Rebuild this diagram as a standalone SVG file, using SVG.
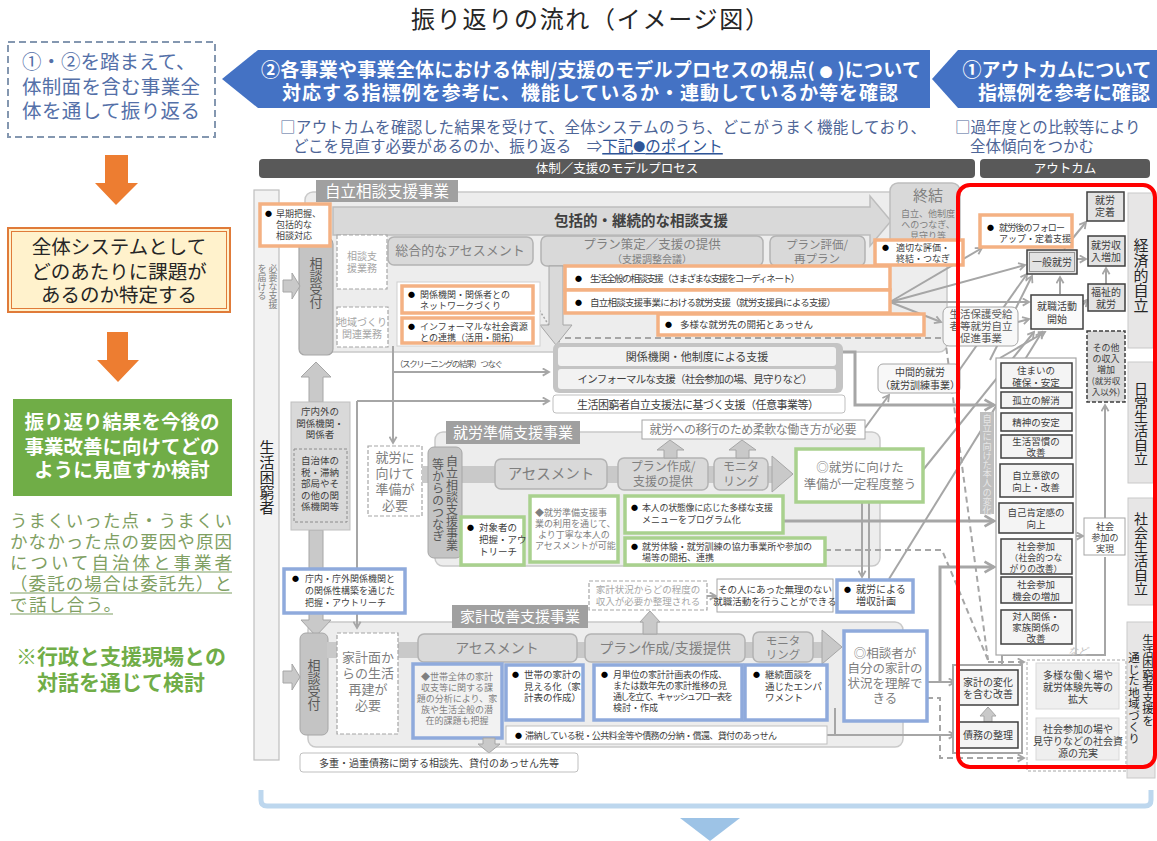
<svg xmlns="http://www.w3.org/2000/svg" width="1157" height="841" viewBox="0 0 1157 841">
<defs>
<style>
text{font-family:"Noto Sans CJK JP","Noto Sans",sans-serif;}
.g4{fill:#404040}.g5{fill:#595959}.g7{fill:#7f7f7f}.ga{fill:#a6a6a6}.wt{fill:#fff}
.bu{fill:#000;font-size:7px}
.zone{fill:#ededed;stroke:#c9c9c9;stroke-width:1.5}
.tab{fill:#a0a0a0}
.proc{fill:#d9d9d9;stroke:#b3b3b3;stroke-width:1.5}
.ob{fill:#fff;stroke:#f4b183;stroke-width:3.5}
.gb{fill:#fff;stroke:#a9d18e;stroke-width:3.5}
.bb{fill:#fff;stroke:#8faadc;stroke-width:3.5}
.dsh{fill:#fff;stroke:#a6a6a6;stroke-width:1.2;stroke-dasharray:4 2}
.oc{fill:#e3e3e3;stroke:#3f3f3f;stroke-width:1.5}
.oc2{fill:#f4f4f4;stroke:#3f3f3f;stroke-width:1.5}
.lab{fill:#e7e6e6;stroke:#c9c9c9;stroke-width:1}
.ln{fill:none;stroke:#a6a6a6;stroke-width:2;marker-end:url(#ah)}
.lnn{fill:none;stroke:#a6a6a6;stroke-width:2}
.dl{fill:none;stroke:#a6a6a6;stroke-width:2;stroke-dasharray:6 4}
.blk{fill:#c9c9c9;stroke:#a6a6a6;stroke-width:1}
.vt{writing-mode:vertical-rl}
</style>
<marker id="ah" viewBox="0 0 10 10" refX="8" refY="5" markerWidth="4.5" markerHeight="4.5" orient="auto"><path d="M1,1 L8,5 L1,9" fill="none" stroke="#a6a6a6" stroke-width="2"/></marker>
</defs>
<rect width="1157" height="841" fill="#fff"/>

<text id="title" x="590" y="28" text-anchor="middle" font-size="24" fill="#262626" textLength="358">振り返りの流れ（イメージ図）</text>

<!-- left column -->
<g id="n-review">
<rect x="8" y="42" width="207" height="95" fill="#fff" stroke="#8497b0" stroke-width="2" stroke-dasharray="7 4"/>
<text x="22" y="69" font-size="19.5" fill="#5470a8">①・②を踏まえて、</text>
<text x="22" y="94" font-size="19.5" fill="#5470a8" textLength="178">体制面を含む事業全</text>
<text x="22" y="118" font-size="19.5" fill="#5470a8" textLength="178">体を通して振り返る</text>
</g>
<g id="arrow-o1"><polygon points="105,155 128,155 128,183 138,183 116,205 95,183 105,183" fill="#ed7d31"/></g>
<g id="n-identify">
<rect x="8" y="228" width="222" height="84" fill="#fff2cc" stroke="#e07b39" stroke-width="2"/>
<rect x="11.5" y="231.5" width="215" height="77" fill="none" stroke="#e07b39" stroke-width="1"/>
<text x="119" y="254" font-size="19.5" text-anchor="middle" fill="#262626">全体システムとして</text>
<text x="119" y="279" font-size="19.5" text-anchor="middle" fill="#262626">どのあたりに課題が</text>
<text x="119" y="302" font-size="19.5" text-anchor="middle" fill="#262626">あるのか特定する</text>
</g>
<g id="arrow-o2"><polygon points="107,332 128,332 128,360 139,360 118,382 97,360 107,360" fill="#ed7d31"/></g>
<g id="n-consider">
<rect x="13" y="399" width="219" height="97" fill="#70ad47"/>
<text x="122" y="429" font-size="19.5" font-weight="bold" text-anchor="middle" class="wt">振り返り結果を今後の</text>
<text x="122" y="454" font-size="19.5" font-weight="bold" text-anchor="middle" class="wt">事業改善に向けてどの</text>
<text x="122" y="477" font-size="19.5" font-weight="bold" text-anchor="middle" class="wt">ように見直すか検討</text>
</g>
<g id="n-note" fill="#7f9f63" font-size="17.5">
<text x="10" y="527" textLength="222">うまくいった点・うまくい</text>
<text x="10" y="548" textLength="222">かなかった点の要因や原因</text>
<text x="10" y="569" textLength="222">について自治体と事業者</text>
<text x="10" y="590" textLength="222">（委託の場合は委託先）と</text>
<text x="10" y="611" textLength="111">で話し合う。</text>
<path d="M93,572 H232 M10,593 H232 M10,614 H113" stroke="#7f9f63" stroke-width="1.2"/>
</g>
<g id="n-dialog" fill="#70ad47" font-size="21" font-weight="bold" text-anchor="middle">
<text x="121" y="664">※行政と支援現場との</text>
<text x="121" y="690">対話を通じて検討</text>
</g>

<!-- top banners -->
<g id="n-banner2">
<polygon points="222,79 258,50 930,50 930,108 258,108" fill="#4472c4"/>
<text x="591" y="77" font-size="19" font-weight="bold" class="wt" text-anchor="middle" textLength="660">②各事業や事業全体における体制/支援のモデルプロセスの視点( <tspan font-size="13">●</tspan> )について</text>
<text x="590" y="100" font-size="19" font-weight="bold" class="wt" text-anchor="middle" textLength="616">対応する指標例を参考に、機能しているか・連動しているか等を確認</text>
</g>
<g id="n-banner1">
<polygon points="932,79 958,50 1157,50 1157,108 958,108" fill="#4472c4"/>
<text x="1057" y="77" font-size="19" font-weight="bold" class="wt" text-anchor="middle" textLength="189">①アウトカムについて</text>
<text x="1064" y="100" font-size="19" font-weight="bold" class="wt" text-anchor="middle" textLength="172">指標例を参考に確認</text>
</g>
<g id="n-sub2" font-size="15.5" fill="#4e6597">
<text x="280" y="133" textLength="646">□アウトカムを確認した結果を受けて、全体システムのうち、どこがうまく機能しており、</text>
<text x="293" y="152">どこを見直す必要があるのか、振り返る　⇒<tspan fill="#2f5597" text-decoration="underline">下記<tspan font-size="12">●</tspan>のポイント</tspan></text>
</g>
<g id="n-sub1" font-size="15.5" fill="#4e6597">
<text x="955" y="133">□過年度との比較等により</text>
<text x="970" y="152">全体傾向をつかむ</text>
</g>
<g id="n-headers">
<rect x="259" y="159" width="716" height="19" rx="4" fill="#595959"/>
<text x="617" y="173" font-size="12.5" class="wt" text-anchor="middle">体制／支援のモデルプロセス</text>
<rect x="980" y="159" width="170" height="19" rx="4" fill="#595959"/>
<text x="1065" y="173" font-size="12.5" class="wt" text-anchor="middle">アウトカム</text>
</g>

<!-- left bar -->
<g id="n-person">
<rect x="254" y="190" width="25" height="570" fill="#f2f2f2" stroke="#bfbfbf" stroke-width="1.2"/>
<text x="267" y="440" font-size="15" class="vt" fill="#262626">生活困窮者</text>
<text x="273" y="264" font-size="9" class="vt g7">必要な支援</text>
<text x="262" y="264" font-size="9" class="vt g7">を届ける</text>
</g>

<!-- zones -->
<g id="zone-jiritsu">
<rect class="zone" x="305" y="192" width="642" height="160" rx="8"/>
<rect class="tab" x="316" y="180" width="142" height="22"/>
<text x="387" y="197" font-size="15.5" class="wt" text-anchor="middle">自立相談支援事業</text>
</g>
<g id="zone-shurou">
<rect class="zone" x="435" y="432" width="445" height="134" rx="8"/>
<rect class="tab" x="446" y="421" width="134" height="23"/>
<text x="513" y="438" font-size="15" class="wt" text-anchor="middle">就労準備支援事業</text>
</g>
<g id="zone-kakei">
<rect class="zone" x="308" y="622" width="595" height="125" rx="8"/>
<rect class="tab" x="452" y="605" width="136" height="23"/>
<text x="520" y="622" font-size="15" class="wt" text-anchor="middle">家計改善支援事業</text>
</g>

<!-- connectors -->
<g id="connectors">
<path class="ln" d="M393,346 V443"/>
<path class="ln" d="M393,372 H549"/>
<path class="ln" d="M357,401 H549"/>
<path class="ln" d="M357,401 V628"/>
<path d="M533,300 L560,343" fill="none" stroke="#a6a6a6" stroke-width="1.5" stroke-dasharray="2 2"/>
<path class="ln" d="M890,302 L982,248"/>
<path class="ln" d="M890,302 L1025,265"/>
<path class="ln" d="M890,302 H1029"/>
<path class="ln" d="M890,302 L941,322"/>
<path class="ln" d="M1018,322 L1029,319"/>
<path class="ln" d="M1064,249 L1086,222"/>
<path class="ln" d="M1077,259 H1086"/>
<path class="ln" d="M1060,294 V277"/>
<path class="ln" d="M1106,284 V268"/>
<path class="ln" d="M1083,305 L1087,300"/>
<path d="M843,352 H855 V405 H994" fill="none" stroke="#a6a6a6" stroke-width="3" marker-end="url(#ah)"/>
<path class="ln" d="M923,470 L1034,332"/>
<path class="ln" d="M958,372 L1027,274"/>
<path class="ln" d="M865,428 L889,395"/>
<path class="ln" d="M862,502 V577"/>
<path class="lnn" d="M869,579 V502"/>
<path class="ln" d="M889,579 L1042,332"/>
<path class="ln" d="M990,360 L1032,276"/>
<path class="ln" d="M1000,358 L1045,332"/>
<path d="M783,521 H994" fill="none" stroke="#a6a6a6" stroke-width="3" marker-end="url(#ah)"/>
<path class="ln" d="M927,682 H955"/>
<path d="M940,682 V567 H994" fill="none" stroke="#a6a6a6" stroke-width="3" marker-end="url(#ah)"/>
<path class="ln" d="M827,735 H955"/>
<path class="lnn" d="M835,708 V735"/>
<path class="dl" d="M555,338 H945 L988,660"/>
<path class="dl" d="M825,550 H942 L988,660"/>
<path class="dl" d="M988,662 H1024" marker-end="url(#ah)"/>
<path class="dl" d="M927,698 H940 V758 H1024" marker-end="url(#ah)"/>
<path class="ln" d="M1105,518 V405"/>
<path class="ln" d="M1076,536 H1083"/>
<path class="lnn" d="M1002,668 V655 H1105 V557"/>
<path class="ln" d="M707,596 H716"/>
</g>

<!-- jiritsu nodes -->
<g id="n-big-arrow">
<polygon points="333,207 870,207 870,196 891,221 870,246 870,235 333,235" fill="#d9d9d9" stroke="#bdbdbd" stroke-width="1.5"/>
<text x="641" y="226" font-size="14.5" font-weight="bold" text-anchor="middle" class="g4">包括的・継続的な相談支援</text>
</g>
<g id="n-shuketsu">
<rect x="890" y="183" width="70" height="82" rx="8" fill="#d9d9d9" stroke="#bdbdbd" stroke-width="1.5"/>
<text x="928" y="201" font-size="15" text-anchor="middle" class="g7">終結</text>
<text x="928" y="217" font-size="9" text-anchor="middle" class="g7">自立、他制度</text>
<text x="928" y="228" font-size="9" text-anchor="middle" class="g7">へのつなぎ、</text>
<text x="928" y="239" font-size="9" text-anchor="middle" class="g7">見守り等</text>
</g>
<g id="n-uketsuke1">
<rect x="299" y="238" width="34" height="117" rx="6" fill="#c4c4c4" stroke="#a6a6a6" stroke-width="1.2"/>
<text x="316" y="257" font-size="13" class="vt g5">相談受付</text>
</g>
<g id="n-arrow-in1"><polygon class="blk" points="283,280 292,280 292,273 300,286 292,299 292,292 283,292"/></g>
<g id="n-souki">
<rect class="ob" x="260" y="204" width="70" height="42"/>
<text x="265" y="216" class="bu">●</text>
<text x="276" y="217" font-size="9" class="g4">早期把握、</text>
<text x="276" y="228" font-size="9" class="g4">包括的な</text>
<text x="276" y="239" font-size="9" class="g4">相談対応</text>
</g>
<g id="n-soudan-gyomu">
<rect class="dsh" x="337" y="235" width="50" height="54"/>
<text x="362" y="260" font-size="10" text-anchor="middle" class="ga">相談支</text>
<text x="362" y="272" font-size="10" text-anchor="middle" class="ga">援業務</text>
</g>
<g id="n-chiiki-gyomu">
<rect class="dsh" x="337" y="307" width="51" height="40"/>
<text x="362" y="326" font-size="10" text-anchor="middle" class="ga">地域づくり</text>
<text x="362" y="338" font-size="10" text-anchor="middle" class="ga">関連業務</text>
</g>
<g id="n-assess1">
<rect class="proc" x="388" y="237" width="145" height="28" rx="6"/>
<text x="460" y="255" font-size="13" text-anchor="middle" class="g7">総合的なアセスメント</text>
</g>
<g id="n-plan1">
<rect class="proc" x="541" y="236" width="222" height="30" rx="6"/>
<text x="652" y="249" font-size="12.5" text-anchor="middle" class="g7">プラン策定／支援の提供</text>
<text x="652" y="263" font-size="10" text-anchor="middle" class="g7">（支援調整会議）</text>
</g>
<g id="n-eval1">
<rect class="proc" x="770" y="236" width="95" height="30" rx="6"/>
<text x="817" y="249" font-size="11.5" text-anchor="middle" class="g7">プラン評価/</text>
<text x="817" y="263" font-size="11.5" text-anchor="middle" class="g7">再プラン</text>
</g>
<g id="n-down-arrow1"><polygon points="549,266 563,266 563,325 572,325 556,345 540,325 549,325" fill="#d9d9d9" stroke="#a6a6a6" stroke-width="1"/></g>
<g id="n-network">
<rect x="397" y="282" width="143" height="64" fill="#fff" stroke="#d0d0d0"/>
<rect class="ob" x="402" y="286" width="131" height="27"/>
<text x="408" y="297" class="bu">●</text>
<text x="420" y="298" font-size="9" class="g4">関係機関・関係者との</text>
<text x="420" y="309" font-size="9" class="g4">ネットワークづくり</text>
<rect class="ob" x="402" y="318" width="131" height="25"/>
<text x="408" y="329" class="bu">●</text>
<text x="420" y="330" font-size="9" class="g4">インフォーマルな社会資源</text>
<text x="420" y="341" font-size="9" class="g4">との連携（活用・開拓）</text>
</g>
<g id="n-seikatsu-zenpan">
<rect class="ob" x="565" y="266" width="325" height="24"/>
<text x="575" y="281" class="bu">●</text>
<text x="590" y="282" font-size="9.5" class="g4" textLength="210">生活全般の相談支援（さまざまな支援をコーディネート）</text>
</g>
<g id="n-shurou-shien">
<rect class="ob" x="565" y="290" width="325" height="23"/>
<text x="575" y="305" class="bu">●</text>
<text x="590" y="306" font-size="9.5" class="g4" textLength="246">自立相談支援事業における就労支援（就労支援員による支援）</text>
</g>
<g id="n-kaitaku">
<rect class="ob" x="658" y="314" width="266" height="21"/>
<text x="665" y="327" class="bu">●</text>
<text x="680" y="328" font-size="9.5" class="g4">多様な就労先の開拓とあっせん</text>
</g>
<g id="n-tekisetsu">
<rect class="ob" x="875" y="240" width="88" height="25"/>
<text x="882" y="250" class="bu">●</text>
<text x="896" y="251" font-size="9" class="g4">適切な評価・</text>
<text x="896" y="262" font-size="9" class="g4">終結・つなぎ</text>
</g>
<g id="n-kankei">
<rect x="553" y="343" width="290" height="50" rx="6" fill="#c4c4c4"/>
<rect x="558" y="347" width="278" height="19" rx="3" fill="#f2f2f2"/>
<text x="697" y="361" font-size="11" text-anchor="middle" class="g4">関係機関・他制度による支援</text>
<rect x="558" y="369" width="278" height="20" rx="3" fill="#f2f2f2"/>
<text x="695" y="383" font-size="10.5" text-anchor="middle" class="g4" textLength="235">インフォーマルな支援（社会参加の場、見守りなど）</text>
</g>
<g id="n-houritsu">
<rect x="553" y="395" width="292" height="18" rx="3" fill="#fff" stroke="#bfbfbf"/>
<text x="698" y="408.5" font-size="11" text-anchor="middle" class="g4" textLength="242">生活困窮者自立支援法に基づく支援（任意事業等）</text>
</g>
<text id="lbl-screening" x="395" y="367" font-size="8.5" class="g5" textLength="108">（スクリーニングの結果）つなぐ</text>
<g id="n-chuukan">
<rect x="878" y="364" width="82" height="29" rx="5" fill="#f8f8f8" stroke="#a6a6a6"/>
<text x="920" y="376" font-size="10" text-anchor="middle" class="g4">中間的就労</text>
<text x="920" y="389" font-size="10" text-anchor="middle" class="g4">（就労訓練事業）</text>
</g>

<!-- left organizations -->
<g id="n-up-arrow"><polygon class="blk" points="309,402 309,377 301,377 316,362 331,377 323,377 323,402"/></g>
<g id="n-down-arrow2"><polygon class="blk" points="309,530 323,530 323,620 331,620 316,636 301,620 309,620"/></g>
<g id="n-chounai">
<rect x="291" y="402" width="59" height="128" fill="#d9d9d9" stroke="#bfbfbf"/>
<text x="320" y="415" font-size="9.5" text-anchor="middle" class="g4">庁内外の</text>
<text x="320" y="426.5" font-size="9.5" text-anchor="middle" class="g4">関係機関・</text>
<text x="320" y="438" font-size="9.5" text-anchor="middle" class="g4">関係者</text>
<rect x="294" y="449" width="53" height="73" fill="none" stroke="#8c8c8c" stroke-dasharray="3 2"/>
<text x="320" y="464" font-size="9.5" text-anchor="middle" class="g4">自治体の</text>
<text x="320" y="475.5" font-size="9.5" text-anchor="middle" class="g4">税・滞納</text>
<text x="320" y="487" font-size="9.5" text-anchor="middle" class="g4">部局やそ</text>
<text x="320" y="498.5" font-size="9.5" text-anchor="middle" class="g4">の他の関</text>
<text x="320" y="510" font-size="9.5" text-anchor="middle" class="g4">係機関等</text>
</g>
<g id="n-chounai-outreach">
<rect class="bb" x="284" y="569" width="121" height="44"/>
<text x="292" y="581" class="bu">●</text>
<text x="305" y="582" font-size="9" class="g4">庁内・庁外関係機関と</text>
<text x="305" y="594" font-size="9" class="g4">の関係性構築を通じた</text>
<text x="305" y="606" font-size="9" class="g4">把握・アウトリーチ</text>
</g>

<!-- shurou junbi -->
<g id="n-junbi-need">
<rect class="dsh" x="368" y="446" width="54" height="70"/>
<text x="395" y="462" font-size="13" text-anchor="middle" class="g7">就労に</text>
<text x="395" y="478" font-size="13" text-anchor="middle" class="g7">向けて</text>
<text x="395" y="494" font-size="13" text-anchor="middle" class="g7">準備が</text>
<text x="395" y="510" font-size="13" text-anchor="middle" class="g7">必要</text>
</g>
<g id="n-bar-shurou">
<rect x="422" y="466" width="350" height="17" fill="#c9c9c9"/>
<polygon points="772,456 793,474 772,492" fill="#c9c9c9" stroke="#a6a6a6" stroke-width="1"/>
</g>
<g id="n-tsunagi">
<rect x="428" y="447" width="34" height="111" rx="6" fill="#c4c4c4" stroke="#a6a6a6"/>
<text x="452" y="455" font-size="12" class="vt g5">自立相談支援事業</text>
<text x="438" y="458" font-size="12" class="vt g5">等からのつなぎ</text>
</g>
<g id="n-assess2">
<rect class="proc" x="495" y="459" width="112" height="30" rx="6"/>
<text x="551" y="479" font-size="14.5" text-anchor="middle" class="g7">アセスメント</text>
</g>
<g id="n-plan2">
<rect class="proc" x="618" y="458" width="90" height="32" rx="6"/>
<text x="663" y="471" font-size="12" text-anchor="middle" class="g7">プラン作成/</text>
<text x="663" y="486" font-size="12" text-anchor="middle" class="g7">支援の提供</text>
</g>
<g id="n-moni2">
<rect class="proc" x="714" y="458" width="54" height="32" rx="6"/>
<text x="741" y="471" font-size="12" text-anchor="middle" class="g7">モニタ</text>
<text x="741" y="486" font-size="12" text-anchor="middle" class="g7">リング</text>
</g>
<g id="n-up-arrows2">
<polygon class="blk" points="664,458 664,450 657,450 670,440 684,450 677,450 677,458"/>
<polygon class="blk" points="736,458 736,450 729,450 742,440 756,450 749,450 749,458"/>
</g>
<g id="n-flexible">
<rect x="642" y="420" width="223" height="19" fill="#fff" stroke="#a6a6a6"/>
<text x="753" y="434" font-size="12" text-anchor="middle" class="g7" textLength="207">就労への移行のため柔軟な働き方が必要</text>
</g>
<g id="n-ready">
<rect class="gb" x="796" y="449" width="127" height="53"/>
<text x="860" y="472" font-size="12.5" text-anchor="middle" class="g7">◎就労に向けた</text>
<text x="860" y="489" font-size="12.5" text-anchor="middle" class="g7">準備が一定程度整う</text>
</g>
<g id="n-teinei">
<rect x="530" y="496" width="88" height="66" fill="#fff" stroke="#a9d18e" stroke-width="3.5"/>
<text x="535" y="516" font-size="9" class="g7">◆就労準備支援事</text>
<text x="535" y="527" font-size="9" class="g7">業の利用を通じて、</text>
<text x="538" y="538" font-size="9" class="g7">より丁寧な本人の</text>
<text x="535" y="549" font-size="9" class="g7">アセスメントが可能</text>
</g>
<g id="n-taishou">
<rect class="gb" x="461" y="517" width="63" height="48"/>
<text x="467" y="530" class="bu">●</text>
<text x="479" y="531" font-size="9.5" class="g4">対象者の</text>
<text x="479" y="543" font-size="9.5" class="g4">把握・アウ</text>
<text x="479" y="555" font-size="9.5" class="g4">トリーチ</text>
</g>
<g id="n-program">
<rect class="gb" x="625" y="496" width="158" height="37"/>
<text x="631" y="510" class="bu">●</text>
<text x="642" y="511" font-size="9" class="g4" textLength="131">本人の状態像に応じた多様な支援</text>
<text x="642" y="523" font-size="9" class="g4">メニューをプログラム化</text>
</g>
<g id="n-taiken">
<rect class="gb" x="625" y="538" width="200" height="27"/>
<text x="631" y="549" class="bu">●</text>
<text x="642" y="550" font-size="9" class="g4" textLength="170">就労体験・就労訓練の協力事業所や参加の</text>
<text x="642" y="561" font-size="9" class="g4">場等の開拓、連携</text>
</g>

<!-- kakei -->
<g id="n-uketsuke2">
<rect x="300" y="633" width="28" height="102" rx="6" fill="#c4c4c4" stroke="#a6a6a6"/>
<text x="314" y="659" font-size="13" class="vt g5">相談受付</text>
</g>
<g id="n-arrow-in2"><polygon class="blk" points="283,671 292,671 292,664 300,677 292,690 292,683 283,683"/></g>
<g id="n-bar-kakei">
<rect x="327" y="642" width="495" height="16" fill="#c9c9c9"/>
<polygon points="822,630 842,647 822,664" fill="#c9c9c9" stroke="#a6a6a6" stroke-width="1"/>
</g>
<g id="n-kakei-need">
<rect class="dsh" x="337" y="633" width="61" height="101"/>
<text x="368" y="662" font-size="13" text-anchor="middle" class="g7">家計面か</text>
<text x="368" y="678" font-size="13" text-anchor="middle" class="g7">らの生活</text>
<text x="368" y="694" font-size="13" text-anchor="middle" class="g7">再建が</text>
<text x="368" y="710" font-size="13" text-anchor="middle" class="g7">必要</text>
</g>
<g id="n-assess3">
<rect class="proc" x="418" y="634" width="159" height="28" rx="6"/>
<text x="497" y="653" font-size="14" text-anchor="middle" class="g7">アセスメント</text>
</g>
<g id="n-plan3">
<rect class="proc" x="585" y="634" width="160" height="28" rx="6"/>
<text x="665" y="653" font-size="14" text-anchor="middle" class="g7">プラン作成/支援提供</text>
</g>
<g id="n-moni3">
<rect class="proc" x="753" y="632" width="60" height="30" rx="6"/>
<text x="783" y="645" font-size="11.5" text-anchor="middle" class="g7">モニタ</text>
<text x="783" y="659" font-size="11.5" text-anchor="middle" class="g7">リング</text>
</g>
<g id="n-up-arrow3"><polygon class="blk" points="643,634 643,622 640,622 650,611 660,622 657,622 657,634"/></g>
<g id="n-understand">
<rect class="bb" x="844" y="631" width="83" height="90"/>
<text x="885" y="658" font-size="12.5" text-anchor="middle" class="g7">◎相談者が</text>
<text x="885" y="673" font-size="12.5" text-anchor="middle" class="g7">自分の家計の</text>
<text x="885" y="688" font-size="12.5" text-anchor="middle" class="g7">状況を理解で</text>
<text x="885" y="703" font-size="12.5" text-anchor="middle" class="g7">きる</text>
</g>
<g id="n-setai">
<rect x="413" y="664" width="89" height="74" fill="#f2f2f2" stroke="#8faadc" stroke-width="3.5"/>
<text x="457" y="680" font-size="9" text-anchor="middle" class="g7">◆世帯全体の家計</text>
<text x="457" y="691" font-size="9" text-anchor="middle" class="g7">収支等に関する課</text>
<text x="457" y="702" font-size="9" text-anchor="middle" class="g7">題の分析により、家</text>
<text x="457" y="713" font-size="9" text-anchor="middle" class="g7">族や生活全般の潜</text>
<text x="457" y="724" font-size="9" text-anchor="middle" class="g7">在的課題も把握</text>
</g>
<g id="n-down-arrow3"><polygon class="blk" points="483,738 495,738 495,744 500,744 489,753 478,744 483,744"/></g>
<g id="n-mieruka">
<rect class="bb" x="506" y="665" width="77" height="55"/>
<text x="512" y="677" class="bu">●</text>
<text x="524" y="678" font-size="9.5" class="g4">世帯の家計の</text>
<text x="524" y="689.5" font-size="9.5" class="g4">見える化（家</text>
<text x="524" y="701" font-size="9.5" class="g4">計表の作成）</text>
</g>
<g id="n-keikaku">
<rect class="bb" x="594" y="665" width="148" height="55"/>
<text x="601" y="677" class="bu">●</text>
<text x="613" y="678" font-size="9" class="g4" textLength="114">月単位の家計計画表の作成、</text>
<text x="613" y="689" font-size="9" class="g4" textLength="114">または数年先の家計推移の見</text>
<text x="613" y="700" font-size="9" class="g4" textLength="120">通しを立て、キャッシュフロー表を</text>
<text x="613" y="711" font-size="9" class="g4">検討・作成</text>
</g>
<g id="n-keizoku">
<rect class="bb" x="745" y="665" width="82" height="55"/>
<text x="753" y="677" class="bu">●</text>
<text x="765" y="678" font-size="9.5" class="g4">継続面談を</text>
<text x="765" y="689.5" font-size="9.5" class="g4">通じたエンパ</text>
<text x="765" y="701" font-size="9.5" class="g4">ワメント</text>
</g>
<g id="n-tainou">
<rect x="506" y="726" width="321" height="18" fill="#fff" stroke="#bfbfbf"/>
<text x="515" y="738" class="bu">●</text>
<text x="525" y="739" font-size="9" class="g4" textLength="252">滞納している税・公共料金等や債務の分納・償還、貸付のあっせん</text>
</g>
<g id="n-tajuu">
<rect x="300" y="753" width="278" height="19" rx="3" fill="#fff" stroke="#bfbfbf"/>
<text x="439" y="767" font-size="10" text-anchor="middle" class="g4">多重・過重債務に関する相談先、貸付のあっせん先等</text>
</g>
<g id="n-kakei-jokyo">
<rect class="dsh" x="589" y="581" width="118" height="29"/>
<text x="648" y="593" font-size="9.5" text-anchor="middle" class="ga">家計状況からどの程度の</text>
<text x="648" y="605" font-size="9.5" text-anchor="middle" class="ga">収入が必要か整理される</text>
</g>
<g id="n-muri">
<rect x="717" y="579" width="116" height="33" fill="#fff" stroke="#a6a6a6"/>
<text x="775" y="593" font-size="9.5" text-anchor="middle" class="g4">その人にあった無理のない</text>
<text x="775" y="605" font-size="9.5" text-anchor="middle" class="g4">就職活動を行うことができる</text>
</g>
<g id="n-zoushuu">
<rect class="bb" x="837" y="580" width="76" height="32"/>
<text x="844" y="592" class="bu">●</text>
<text x="856" y="593" font-size="10" class="g4">就労による</text>
<text x="856" y="605" font-size="10" class="g4">増収計画</text>
</g>

<!-- outcomes -->
<g id="n-follow">
<rect class="ob" x="980" y="215" width="92" height="32"/>
<text x="987" y="230" class="bu">●</text>
<text x="999" y="231" font-size="9" class="g4" textLength="66">就労後のフォロー</text>
<text x="999" y="242" font-size="9" class="g4">アップ・定着支援</text>
</g>
<g id="n-teichaku"><rect class="oc" x="1087" y="192" width="37" height="29"/>
<text x="1105" y="204" font-size="10" text-anchor="middle" class="g4">就労</text>
<text x="1105" y="216" font-size="10" text-anchor="middle" class="g4">定着</text></g>
<g id="n-ippan"><rect class="oc" x="1027" y="250" width="50" height="24"/>
<rect x="1029.5" y="252.5" width="45" height="19" fill="none" stroke="#7f7f7f" stroke-width="0.8"/>
<text x="1052" y="266" font-size="10" text-anchor="middle" class="g4">一般就労</text></g>
<g id="n-shuunyuu"><rect class="oc" x="1088" y="236" width="37" height="30"/>
<text x="1106" y="249" font-size="10" text-anchor="middle" class="g4">就労収</text>
<text x="1106" y="261" font-size="10" text-anchor="middle" class="g4">入増加</text></g>
<g id="n-fukushi"><rect class="oc" x="1088" y="284" width="37" height="27"/>
<text x="1106" y="296" font-size="10" text-anchor="middle" class="g4">福祉的</text>
<text x="1106" y="308" font-size="10" text-anchor="middle" class="g4">就労</text></g>
<g id="n-katsudou"><rect x="1031" y="295" width="52" height="34" fill="#fafafa" stroke="#3f3f3f" stroke-width="1.5"/>
<text x="1057" y="310" font-size="10" text-anchor="middle" class="g4">就職活動</text>
<text x="1057" y="323" font-size="10" text-anchor="middle" class="g4">開始</text></g>
<g id="n-seiho"><rect x="943" y="307" width="75" height="39" rx="6" fill="#f8f8f8" stroke="#a6a6a6"/>
<text x="981" y="318" font-size="10.5" text-anchor="middle" class="g5">生活保護受給</text>
<text x="981" y="330" font-size="10.5" text-anchor="middle" class="g5">者等就労自立</text>
<text x="981" y="342" font-size="10.5" text-anchor="middle" class="g5">促進事業</text></g>
<g id="n-sonota"><rect x="1087" y="331" width="38" height="71" fill="#d9d9d9" stroke="#3f3f3f" stroke-width="1.5" stroke-dasharray="4 2"/>
<text x="1106" y="351" font-size="9" text-anchor="middle" class="g4">その他</text>
<text x="1106" y="362" font-size="9" text-anchor="middle" class="g4">の収入</text>
<text x="1106" y="373" font-size="9" text-anchor="middle" class="g4">増加</text>
<text x="1106" y="384" font-size="8.5" text-anchor="middle" class="g4">(就労収</text>
<text x="1106" y="395" font-size="8.5" text-anchor="middle" class="g4">入以外)</text></g>

<g id="n-change-label"><rect x="980" y="412" width="14" height="102" fill="#bfbfbf"/>
<text x="987" y="414" font-size="9.2" class="vt" fill="#e6e6e6">自立に向けた本人の変化</text></g>
<g id="n-change-panel">
<rect x="996" y="358" width="80" height="297" fill="#fff" stroke="#a6a6a6" stroke-width="1.2"/>
<g font-size="9.5" text-anchor="middle" class="g4">
<rect class="oc2" x="1001" y="363" width="71" height="25"/>
<text x="1036" y="374">住まいの</text><text x="1036" y="386">確保・安定</text>
<rect class="oc2" x="1001" y="392" width="71" height="16"/>
<text x="1036" y="404">孤立の解消</text>
<rect class="oc2" x="1001" y="413" width="71" height="18"/>
<text x="1036" y="426">精神の安定</text>
<rect class="oc2" x="1001" y="435" width="71" height="23"/>
<text x="1036" y="444.5">生活習慣の</text><text x="1036" y="456">改善</text>
<rect class="oc2" x="1000" y="464" width="73" height="33"/>
<text x="1036" y="479">自立意欲の</text><text x="1036" y="491">向上・改善</text>
<rect class="oc2" x="999" y="503" width="74" height="30"/>
<text x="1036" y="516">自己肯定感の</text><text x="1036" y="528">向上</text>
<rect class="oc2" x="1001" y="539" width="71" height="35"/>
<text x="1036" y="550">社会参加</text><text x="1036" y="561" font-size="8.8">（社会的つな</text><text x="1036" y="571.5" font-size="8.8">がりの改善）</text>
<rect class="oc2" x="1001" y="577" width="71" height="26"/>
<text x="1036" y="588">社会参加</text><text x="1036" y="600">機会の増加</text>
<rect class="oc2" x="1001" y="610" width="71" height="34"/>
<text x="1036" y="620">対人関係・</text><text x="1036" y="631">家族関係の</text><text x="1036" y="642">改善</text>
</g>
<text x="1068" y="655" font-size="10" font-style="italic" fill="#bfbfbf">など</text>
</g>
<g id="n-sankajitsugen"><rect x="1084" y="518" width="41" height="37" fill="#fff" stroke="#a6a6a6"/>
<text x="1105" y="530" font-size="9" text-anchor="middle" class="g4">社会</text>
<text x="1105" y="541" font-size="9" text-anchor="middle" class="g4">参加の</text>
<text x="1105" y="552" font-size="9" text-anchor="middle" class="g4">実現</text></g>
<g id="n-kakei-group">
<rect x="953" y="665" width="69" height="88" fill="#fff" stroke="#a6a6a6" stroke-width="2"/>
<rect class="oc2" x="958" y="670" width="60" height="35"/>
<text x="988" y="686" font-size="10" text-anchor="middle" class="g4">家計の変化</text>
<text x="988" y="698" font-size="10" text-anchor="middle" class="g4">を含む改善</text>
<polygon class="blk" points="984,722 984,716 980,716 988,707 996,716 992,716 992,722"/>
<rect class="oc2" x="958" y="722" width="60" height="26"/>
<text x="988" y="739" font-size="10" text-anchor="middle" class="g4">債務の整理</text>
</g>
<g id="n-chiiki-group">
<rect x="1027" y="660" width="99" height="111" fill="#fff" stroke="#a6a6a6" stroke-dasharray="3 2"/>
<rect x="1036" y="663" width="83" height="46" fill="#efefef" stroke="#d9d9d9"/>
<text x="1078" y="679" font-size="10" text-anchor="middle" class="g4">多様な働く場や</text>
<text x="1078" y="691" font-size="10" text-anchor="middle" class="g4">就労体験先等の</text>
<text x="1078" y="703" font-size="10" text-anchor="middle" class="g4">拡大</text>
<rect x="1036" y="718" width="83" height="42" fill="#efefef" stroke="#d9d9d9"/>
<text x="1078" y="733" font-size="10" text-anchor="middle" class="g4">社会参加の場や</text>
<text x="1078" y="745" font-size="10" text-anchor="middle" class="g4">見守りなどの社会資</text>
<text x="1078" y="757" font-size="10" text-anchor="middle" class="g4">源の充実</text>
</g>
<g id="n-labels-right">
<rect class="lab" x="1128" y="193" width="25" height="155"/>
<text x="1141" y="238" font-size="15" class="vt" fill="#262626">経済的自立</text>
<rect class="lab" x="1128" y="362" width="25" height="121"/>
<text x="1141" y="382" font-size="14" class="vt" fill="#262626">日常生活自立</text>
<rect class="lab" x="1128" y="498" width="25" height="107"/>
<text x="1141" y="512" font-size="14" class="vt" fill="#262626">社会生活自立</text>
<rect class="lab" x="1127" y="622" width="28" height="156"/>
<text x="1148" y="634" font-size="11.5" class="vt" fill="#262626">生活困窮者支援を</text>
<text x="1134" y="652" font-size="11.5" class="vt" fill="#262626">通じた地域づくり</text>
</g>
<g id="outcome-frame"><rect x="958" y="185" width="197" height="582" rx="12" fill="none" stroke="#ff0000" stroke-width="4"/></g>

<g id="bottom-bracket">
<path d="M261,790 V800 Q261,806 267,806 H1145 Q1151,806 1151,800 V790" fill="none" stroke="#bdd7ee" stroke-width="5"/>
<polygon points="680,818 740,818 710,841" fill="#9dc3e6"/>
</g>
</svg>
